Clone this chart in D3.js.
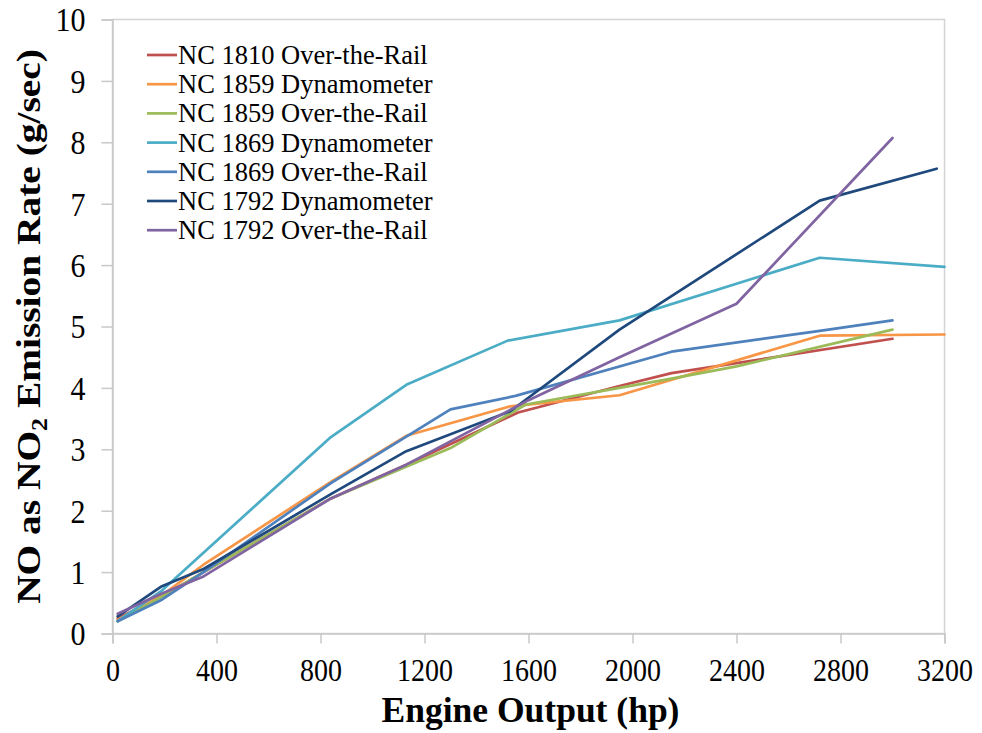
<!DOCTYPE html>
<html>
<head>
<meta charset="utf-8">
<script src="https://cdn.jsdelivr.net/npm/d3@7"></script>
<style>
  html, body { margin: 0; padding: 0; background: #fff; }
  svg { display: block; }
  text { font-family: "Liberation Serif", "Times New Roman", serif; fill: #000; }
</style>
</head>
<body>
<svg id="chart" width="982" height="733"></svg>
<script>
// ---- data ----
const seriesNames = [
  "NC 1810 Over-the-Rail",
  "NC 1859 Dynamometer",
  "NC 1859 Over-the-Rail",
  "NC 1869 Dynamometer",
  "NC 1869 Over-the-Rail",
  "NC 1792 Dynamometer",
  "NC 1792 Over-the-Rail"
];
const seriesColors = ["#C0504D", "#F79646", "#9BBB59", "#4BACC6", "#4F81BD", "#1F497D", "#8064A2"];

const hp1810otr = [20, 190, 350, 840, 1130, 1560, 1950, 2150, 3000];
const no1810otr = [0.25, 0.60, 1.00, 2.20, 2.75, 3.60, 4.03, 4.24, 4.80];

const hp1859dyn = [20, 190, 350, 840, 1130, 1530, 1950, 2720, 3200];
const no1859dyn = [0.22, 0.62, 1.12, 2.47, 3.22, 3.70, 3.88, 4.85, 4.87];

const hp1859otr = [20, 190, 350, 840, 1300, 1590, 1950, 2150, 2400, 3000];
const no1859otr = [0.20, 0.60, 1.00, 2.20, 3.02, 3.73, 4.00, 4.15, 4.35, 4.95];

const hp1869dyn = [20, 190, 840, 1130, 1520, 1950, 2720, 3200];
const no1869dyn = [0.20, 0.70, 3.20, 4.05, 4.77, 5.10, 6.12, 5.97];

const hp1869otr = [20, 190, 350, 840, 1300, 1550, 2150, 2720, 3000];
const no1869otr = [0.20, 0.55, 1.00, 2.45, 3.65, 3.87, 4.59, 4.93, 5.10];

const hp1792dyn = [20, 190, 350, 840, 1130, 1530, 1950, 2720, 3170];
const no1792dyn = [0.28, 0.77, 1.05, 2.27, 2.97, 3.62, 4.95, 7.05, 7.57];

const hp1792otr = [20, 190, 350, 840, 1130, 1600, 1950, 2400, 3000];
const no1792otr = [0.32, 0.65, 0.93, 2.20, 2.75, 3.80, 4.50, 5.37, 8.07];

const xTicks = [0, 400, 800, 1200, 1600, 2000, 2400, 2800, 3200];
const yTicks = [0, 1, 2, 3, 4, 5, 6, 7, 8, 9, 10];

const xTitle = "Engine Output (hp)";
// ---- end data ----

const seriesHp = [hp1810otr, hp1859dyn, hp1859otr, hp1869dyn, hp1869otr, hp1792dyn, hp1792otr];
const seriesNo = [no1810otr, no1859dyn, no1859otr, no1869dyn, no1869otr, no1792dyn, no1792otr];
const series = seriesNames.map((name, i) => ({
  name, color: seriesColors[i],
  points: seriesHp[i].map((h, j) => ({ x: h, y: seriesNo[i][j] }))
}));

const svg = d3.select("#chart");
const L = 112.5, R = 944.5, T = 19.5, B = 633.5;
const x = d3.scaleLinear().domain([0, 3200]).range([L, R]);
const y = d3.scaleLinear().domain([0, 10]).range([B, T]);
const gridColor = "#C8C8C8";
const SY = 1.12; // vertical stretch of glyphs

// plot border
svg.append("rect").attr("x", L).attr("y", T).attr("width", R - L).attr("height", B - T)
  .attr("fill", "none").attr("stroke", "#D4D4D4").attr("stroke-width", 1.5);

// x axis
const xAxis = svg.append("g").attr("transform", `translate(0,${B})`)
  .call(d3.axisBottom(x).tickValues(xTicks).tickSize(10).tickPadding(30).tickFormat(d3.format("d")));
xAxis.select(".domain").attr("stroke", gridColor).attr("stroke-width", 1.5);
xAxis.selectAll(".tick line").attr("stroke", gridColor).attr("stroke-width", 1.5);
xAxis.selectAll(".tick text").attr("font-size", 28).attr("font-family", "Liberation Serif").attr("fill", "#000")
  .attr("y", 0).attr("dy", "0").attr("transform", `translate(0,47) scale(1,${SY})`);

// y axis
const yAxis = svg.append("g").attr("transform", `translate(${L},0)`)
  .call(d3.axisLeft(y).tickValues(yTicks).tickSize(11).tickPadding(17).tickFormat(d3.format("d")));
yAxis.select(".domain").attr("stroke", gridColor).attr("stroke-width", 1.5);
yAxis.selectAll(".tick line").attr("stroke", gridColor).attr("stroke-width", 1.5);
yAxis.selectAll(".tick text").attr("font-size", 30).attr("font-family", "Liberation Serif").attr("fill", "#000")
  .attr("x", 0).attr("dy", "0.34em").attr("transform", `translate(-27,0) scale(1,${SY})`);

// lines
const line = d3.line().x(d => x(d.x)).y(d => y(d.y));
svg.append("g").selectAll("path").data(series).join("path")
  .attr("d", d => line(d.points))
  .attr("fill", "none")
  .attr("stroke", d => d.color)
  .attr("stroke-width", 2.7)
  .attr("stroke-linejoin", "round")
  .attr("stroke-linecap", "round");

// axis titles
const xt = svg.append("text")
  .attr("text-anchor", "middle").attr("font-size", 32).attr("font-weight", "bold")
  .text(xTitle);
const xtLen = xt.node().getComputedTextLength();
xt.attr("transform", `translate(${(L + R) / 2 + 2},722) scale(${298 / xtLen},1.1)`);

const yt = svg.append("text")
  .attr("text-anchor", "middle").attr("font-size", 32).attr("font-weight", "bold");
yt.append("tspan").text("NO as NO");
yt.append("tspan").attr("font-size", 21).attr("dy", 7).text("2");
yt.append("tspan").attr("dy", -7).text(" Emission Rate (g/sec)");
const ytLen = yt.node().getComputedTextLength();
yt.attr("transform", `translate(40,${(T + B) / 2}) rotate(-90) scale(${555 / ytLen},1.05)`);

// legend
const leg = svg.append("g");
const rowH = 29.2, ly0 = 55;
const legRows = leg.selectAll("g").data(series).join("g")
  .attr("transform", (d, i) => `translate(0,${ly0 + i * rowH})`);
legRows.append("line").attr("x1", 147).attr("x2", 177).attr("y1", 0).attr("y2", 0)
  .attr("stroke", d => d.color).attr("stroke-width", 2.7);
legRows.append("text").attr("font-size", 26.5)
  .attr("x", 178).attr("y", 9)
  .text(d => d.name);
</script>
</body>
</html>
